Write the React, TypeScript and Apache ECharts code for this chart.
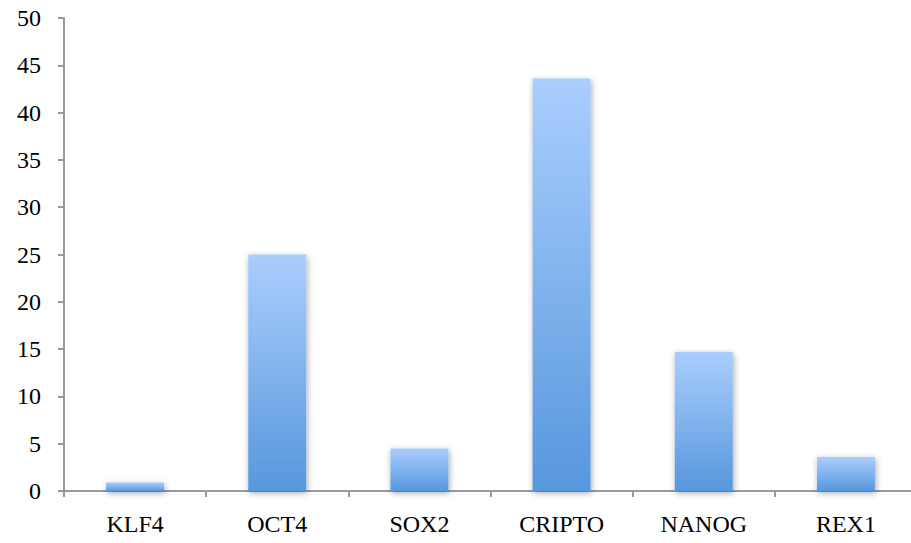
import React, { useEffect, useRef } from "react";
import * as echarts from "echarts";

const categories = ["KLF4", "OCT4", "SOX2", "CRIPTO", "NANOG", "REX1"];
const values = [0.9, 25, 4.5, 43.6, 14.7, 3.6];
const yMin = 0;
const yMax = 50;
const yInterval = 5;

export default function App() {
  const ref = useRef<HTMLDivElement>(null);
  useEffect(() => {
    if (!ref.current) return;
    const chart = echarts.init(ref.current, undefined, { renderer: "svg" });
    const font = "'Liberation Serif', 'Times New Roman', serif";
    chart.setOption({
      animation: false,
      backgroundColor: "#ffffff",
      grid: { left: 64, right: 0, top: 18, bottom: 52, containLabel: false },
      xAxis: {
        type: "category",
        data: categories,
        boundaryGap: true,
        axisLine: { show: true, lineStyle: { color: "#9a9a9a", width: 2 } },
        axisTick: { show: true, inside: false, length: 6, alignWithLabel: false, lineStyle: { color: "#9a9a9a", width: 2 } },
        axisLabel: { color: "#000", fontFamily: font, fontSize: 24, margin: 21 },
        splitLine: { show: false },
      },
      yAxis: {
        type: "value",
        min: yMin,
        max: yMax,
        interval: yInterval,
        axisLine: { show: true, lineStyle: { color: "#9a9a9a", width: 2 } },
        axisTick: { show: true, inside: false, length: 6, lineStyle: { color: "#9a9a9a", width: 2 } },
        axisLabel: { color: "#000", fontFamily: font, fontSize: 24, margin: 23 },
        splitLine: { show: false },
      },
      series: [
        {
          type: "bar",
          data: values,
          barWidth: 58,
          itemStyle: {
            color: new echarts.graphic.LinearGradient(0, 0, 0, 1, [
              { offset: 0, color: "#aacefd" },
              { offset: 1, color: "#5797dd" },
            ]),
            shadowColor: "rgba(0,0,0,0.35)",
            shadowBlur: 6,
            shadowOffsetX: 1,
            shadowOffsetY: 2,
          },
        },
      ],
    });
    return () => chart.dispose();
  }, []);
  return (
    <div style={{ position: "absolute", left: 0, top: 0, width: 911, height: 543, overflow: "hidden" }}>
      <div ref={ref} style={{ width: 917, height: 543 }} />
    </div>
  );
}
